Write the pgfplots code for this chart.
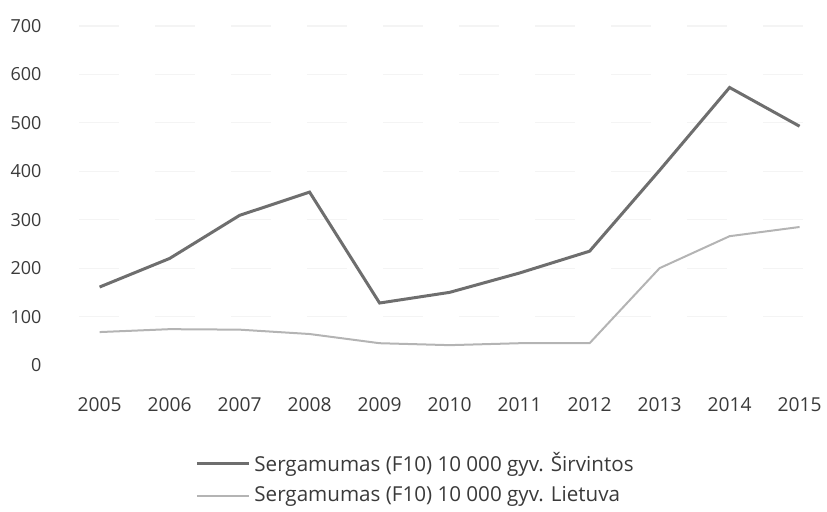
\documentclass[border=0pt]{standalone}
\usepackage{fontspec}
\setmainfont{Open Sans}
\usepackage{pgfplots}
\pgfplotsset{compat=1.18}
\definecolor{darkline}{HTML}{6E6E6E}
\definecolor{lightline}{HTML}{B4B4B4}
\definecolor{txt}{HTML}{3A3A3A}
\begin{document}
\begin{tikzpicture}
\path[use as bounding box] (-32.3pt,-73pt) rectangle (381.2pt,182.5pt);
\begin{axis}[
  scale only axis,
  width=378pt, height=169.5pt,
  xmin=2004.5, xmax=2015.3,
  ymin=0, ymax=700,
  axis line style={draw=none},
  major tick style={draw=none},
  ytick={0,100,...,700},
  xtick={2005,...,2015},
  /pgf/number format/assume math mode=true,
  /pgf/number format/1000 sep={},
  yticklabel style={font=\fontsize{9}{10}\selectfont, text=txt, xshift=-8pt},
  xticklabel style={font=\fontsize{9.6}{10}\selectfont, text=txt, yshift=-13pt},
  clip=false,
  legend style={at={(0.1725,-0.245)}, anchor=north west, draw=none, fill=none,
    font=\fontsize{10.3}{11}\selectfont, text=txt, row sep=2pt,
    inner sep=0pt, cells={anchor=west}},
  legend cell align=left,
  legend image code/.code={\draw[#1] (0pt,0pt) -- (26pt,0pt);},
]
\foreach \yy in {100,200,300,400,500,600,700}{
  \edef\tmp{\noexpand\draw[gray!9, line width=0.6pt, dash pattern=on 20pt off 18pt] (axis cs:2004.7,\yy) -- (axis cs:2015.3,\yy);}\tmp
}
\addplot[darkline, line width=1.5pt] coordinates {
 (2005,161) (2006,220) (2007,309) (2008,357) (2009,128) (2010,150)
 (2011,190) (2012,235) (2013,402) (2014,573) (2015,493)};
\addlegendentry{Sergamumas (F10) 10 000 gyv. Širvintos}
\addplot[lightline, line width=1pt] coordinates {
 (2005,68) (2006,74) (2007,73) (2008,64) (2009,45) (2010,41)
 (2011,45) (2012,45) (2013,200) (2014,266) (2015,285)};
\addlegendentry{Sergamumas (F10) 10 000 gyv. Lietuva}
\end{axis}
\end{tikzpicture}
\end{document}
